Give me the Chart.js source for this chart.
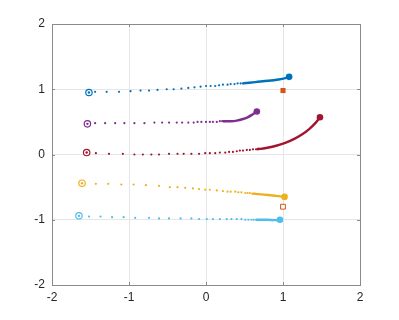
<!DOCTYPE html>
<html>
<head>
<meta charset="utf-8">
<script src="https://cdn.jsdelivr.net/npm/chart.js@4"></script>
<style>
  html, body { margin: 0; padding: 0; background: #fff; }
</style>
</head>
<body>
<canvas id="traj" width="399" height="320"></canvas>
<script>
// samples [x, y], one list per trajectory
const blueDots = [[-1.44,0.96],[-1.29,0.96],[-1.13,0.96],[-0.98,0.97],[-0.85,0.98],[-0.74,0.98],[-0.63,0.99],[-0.51,1.00],[-0.42,1.00],[-0.32,1.01],[-0.23,1.02],[-0.15,1.03],[-0.07,1.04],[0.00,1.05],[0.06,1.05],[0.12,1.05],[0.17,1.06],[0.22,1.07],[0.28,1.07],[0.32,1.08],[0.37,1.08],[0.41,1.09],[0.45,1.09],[0.48,1.09],[0.51,1.10]];
const blueTail = [[0.48,1.09],[0.64,1.11],[0.81,1.13],[0.94,1.15],[1.03,1.17],[1.08,1.19]];

const purpleDots = [[-1.44,0.48],[-1.31,0.48],[-1.18,0.48],[-1.06,0.48],[-0.93,0.48],[-0.80,0.48],[-0.67,0.49],[-0.57,0.49],[-0.48,0.49],[-0.38,0.49],[-0.31,0.49],[-0.23,0.49],[-0.16,0.49],[-0.11,0.50],[-0.06,0.50],[0.00,0.50],[0.05,0.50],[0.09,0.50],[0.14,0.50],[0.18,0.51],[0.21,0.51],[0.24,0.51]];
const purpleTail = [[0.22,0.51],[0.32,0.51],[0.40,0.52],[0.47,0.54],[0.54,0.57],[0.60,0.61],[0.66,0.66]];

const redDots = [[-1.43,0.02],[-1.26,0.01],[-1.08,0.01],[-0.93,0.00],[-0.82,0.00],[-0.71,0.00],[-0.61,0.00],[-0.48,0.01],[-0.37,0.01],[-0.29,0.01],[-0.19,0.01],[-0.09,0.01],[-0.01,0.02],[0.05,0.02],[0.12,0.02],[0.18,0.03],[0.25,0.03],[0.30,0.04],[0.35,0.04],[0.40,0.05],[0.44,0.06],[0.48,0.06],[0.53,0.07],[0.57,0.07],[0.61,0.08],[0.65,0.08],[0.68,0.09]];
const redTail = [[0.66,0.08],[0.78,0.10],[0.90,0.13],[1.02,0.175],[1.14,0.235],[1.25,0.31],[1.34,0.39],[1.42,0.48],[1.48,0.57]];

const yellowDots = [[-1.43,-0.45],[-1.27,-0.45],[-1.10,-0.46],[-0.94,-0.46],[-0.78,-0.47],[-0.61,-0.48],[-0.47,-0.50],[-0.37,-0.50],[-0.27,-0.51],[-0.17,-0.52],[-0.09,-0.53],[-0.01,-0.54],[0.05,-0.54],[0.14,-0.55],[0.22,-0.56],[0.28,-0.57],[0.32,-0.57],[0.38,-0.57],[0.42,-0.58],[0.46,-0.58],[0.51,-0.59],[0.54,-0.59],[0.57,-0.59],[0.60,-0.60],[0.63,-0.60]];
const yellowTail = [[0.61,-0.60],[0.81,-0.62],[1.02,-0.65]];

const lightBlueDots = [[-1.52,-0.95],[-1.37,-0.95],[-1.22,-0.96],[-1.07,-0.96],[-0.92,-0.97],[-0.74,-0.97],[-0.61,-0.98],[-0.48,-0.98],[-0.33,-0.98],[-0.19,-0.98],[-0.09,-0.99],[0.01,-0.99],[0.09,-0.99],[0.18,-0.99],[0.27,-0.99],[0.33,-0.99],[0.40,-0.99],[0.46,-0.99],[0.51,-1.00],[0.55,-1.00],[0.59,-1.00],[0.62,-1.00],[0.65,-1.00]];
const lightBlueTail = [[0.65,-1.00],[0.80,-1.00],[0.96,-1.01]];

const startPoints = [[-1.52,0.95],[-1.54,0.47],[-1.55,0.03],[-1.61,-0.44],[-1.65,-0.94]];
const endPoints = [[1.08,1.19],[0.66,0.66],[1.48,0.57],[1.02,-0.65],[0.96,-1.00]];
const targetFilled = [[1.00,0.98]];
const targetOpen = [[1.00,-0.80]];

const tickValues = [-2, -1, 0, 1, 2];

const colors = ["#0072BD", "#7E2F8E", "#A2142F", "#EDB120", "#4DBEEE"];
const dotSets = [blueDots, purpleDots, redDots, yellowDots, lightBlueDots];
const tailSets = [blueTail, purpleTail, redTail, yellowTail, lightBlueTail];
const targetColor = "#D95319";

const toXY = (arr) => arr.map((p) => ({ x: p[0], y: p[1] }));

// lower "order" is drawn on top
const datasets = [];
colors.forEach((c, i) => {
  datasets.push({
    order: 5,
    data: toXY(dotSets[i]),
    showLine: false,
    pointRadius: 1.1,
    pointBorderWidth: 0,
    backgroundColor: c,
  });
  datasets.push({
    order: 4,
    data: toXY(tailSets[i]),
    showLine: true,
    borderColor: c,
    borderWidth: 2.4,
    pointRadius: 0,
    tension: 0.4,
  });
  // start marker: open circle with a dot inside
  datasets.push({
    order: 3,
    data: toXY([startPoints[i]]),
    showLine: false,
    pointRadius: 3.2,
    pointBorderWidth: 1.2,
    borderColor: c,
    backgroundColor: "#ffffff",
  });
  datasets.push({
    order: 2,
    data: toXY([startPoints[i]]),
    showLine: false,
    pointRadius: 1.2,
    pointBorderWidth: 0,
    backgroundColor: c,
  });
  datasets.push({
    order: 1,
    data: toXY([endPoints[i]]),
    showLine: false,
    pointRadius: 3.3,
    pointBorderWidth: 0,
    backgroundColor: c,
  });
});

datasets.push({
  order: 1,
  data: toXY(targetFilled),
  showLine: false,
  pointStyle: "rect",
  pointRadius: 3.6,
  pointBorderWidth: 0,
  backgroundColor: targetColor,
});
datasets.push({
  order: 1,
  data: toXY(targetOpen),
  showLine: false,
  pointStyle: "rect",
  pointRadius: 3.4,
  pointBorderWidth: 1,
  borderColor: targetColor,
  backgroundColor: "#ffffff",
});

// axes box with inward tick marks, like the original figure
const boxPlugin = {
  id: "box",
  beforeDatasetsDraw(chart) {
    const { ctx, chartArea: a, scales } = chart;
    ctx.save();
    ctx.strokeStyle = "#8a8a8a";
    ctx.lineWidth = 1;
    ctx.beginPath();
    tickValues.forEach((v) => {
      const px = Math.round(scales.x.getPixelForValue(v)) + 0.5;
      ctx.moveTo(px, a.bottom); ctx.lineTo(px, a.bottom - 3);
      ctx.moveTo(px, a.top); ctx.lineTo(px, a.top + 3);
      const py = Math.round(scales.y.getPixelForValue(v)) + 0.5;
      ctx.moveTo(a.left, py); ctx.lineTo(a.left + 3, py);
      ctx.moveTo(a.right, py); ctx.lineTo(a.right - 3, py);
    });
    ctx.stroke();
    ctx.strokeRect(Math.round(a.left) + 0.5, Math.round(a.top) + 0.5,
      Math.round(a.right - a.left), Math.round(a.bottom - a.top));
    ctx.restore();
  },
};

const tickFont = { family: "'Liberation Sans', Arial, sans-serif", size: 12 };

new Chart(document.getElementById("traj"), {
  type: "scatter",
  data: { datasets },
  options: {
    responsive: false,
    animation: false,
    layout: { padding: { top: 24, right: 39, left: 0, bottom: 0 } },
    plugins: { legend: { display: false }, tooltip: { enabled: false } },
    scales: {
      x: {
        type: "linear",
        min: -2,
        max: 2,
        afterBuildTicks: (s) => { s.ticks = tickValues.map((v) => ({ value: v })); },
        afterFit: (s) => { s.height = 35; },
        ticks: { color: "#262626", font: tickFont, padding: 5 },
        grid: { color: "#e6e6e6", drawTicks: false },
        border: { display: false },
      },
      y: {
        type: "linear",
        min: -2,
        max: 2,
        afterBuildTicks: (s) => { s.ticks = tickValues.map((v) => ({ value: v })); },
        afterFit: (s) => { s.width = 52; },
        ticks: { color: "#262626", font: tickFont, padding: 7 },
        grid: { color: "#e6e6e6", drawTicks: false },
        border: { display: false },
      },
    },
  },
  plugins: [boxPlugin],
});
</script>
</body>
</html>
